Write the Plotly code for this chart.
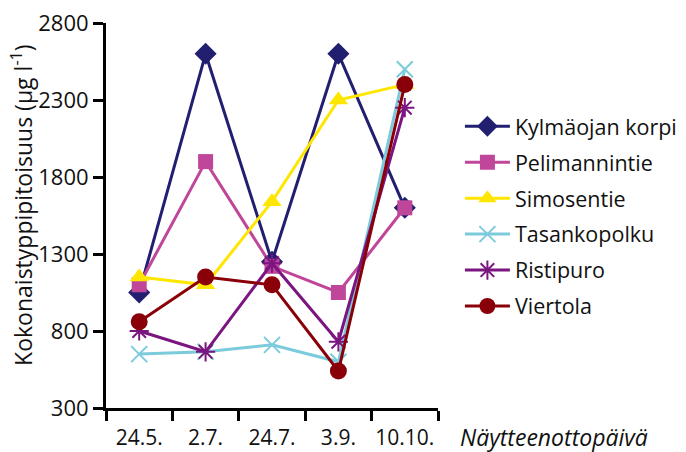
import plotly.graph_objects as go

# Sampling dates and total nitrogen concentration (µg/l) per site
dates = ["24.5.", "2.7.", "24.7.", "3.9.", "10.10."]

kylmaojan_korpi = [1050, 2600, 1250, 2600, 1600]
pelimannintie = [1100, 1900, 1220, 1050, 1600]
simosentie = [1150, 1100, 1640, 2300, 2400]
tasankopolku = [650, 665, 710, 600, 2500]
ristipuro = [800, 665, 1240, 730, 2250]
viertola = [860, 1150, 1100, 540, 2400]

series = [
    ("Kylmäojan korpi", kylmaojan_korpi, "#221e70", "diamond", 17, 0),
    ("Pelimannintie", pelimannintie, "#c0469a", "square", 15, 0),
    ("Simosentie", simosentie, "#ffe600", "triangle-up", 17, 0),
    ("Tasankopolku", tasankopolku, "#7ccbdc", "x-thin-open", 16, 2),
    ("Ristipuro", ristipuro, "#7b1580", "asterisk-open", 16, 2),
    ("Viertola", viertola, "#8a0008", "circle", 17, 0),
]

FONT = "Open Sans"
TXT = "#111111"

fig = go.Figure()
for name, vals, color, symbol, size, mlw in series:
    fig.add_trace(go.Scatter(
        x=dates, y=vals, name=name, mode="lines+markers",
        legendgroup=name,
        line=dict(color=color, width=3),
        marker=dict(symbol=symbol, size=size, color=color,
                    line=dict(color=color, width=mlw)),
    ))

fig.update_layout(
    width=686, height=452,
    margin=dict(l=106, r=248, t=23, b=44, autoexpand=False),
    paper_bgcolor="white", plot_bgcolor="white",
    font=dict(family=FONT, size=22, color=TXT),
    showlegend=True,
    legend=dict(
        x=1.066, y=0.785, xanchor="left", yanchor="top",
        font=dict(family=FONT, size=21.5, color=TXT),
        itemwidth=45, tracegroupgap=5,
        bgcolor="rgba(0,0,0,0)",
    ),
    xaxis=dict(
        type="category", tickson="boundaries",
        range=[-0.5, 4.5], automargin=False, tickangle=0,
        showline=True, linecolor="black", linewidth=3,
        ticks="outside", ticklen=10, tickwidth=3, tickcolor="black",
        ticklabelstandoff=9,
        showgrid=False, zeroline=False,
        tickfont=dict(family=FONT, size=21, color=TXT),
    ),
    yaxis=dict(
        range=[300, 2800], tickvals=[300, 800, 1300, 1800, 2300, 2800],
        automargin=False,
        showline=True, linecolor="black", linewidth=3,
        ticks="outside", ticklen=10, tickwidth=3, tickcolor="black",
        showgrid=False, zeroline=False,
        tickfont=dict(family=FONT, size=22, color=TXT),
    ),
)

# Y-axis title
fig.add_annotation(
    text="Kokonaistyppipitoisuus (µg l<sup>-1</sup>)",
    xref="paper", yref="paper", x=-0.253, y=0.525,
    xanchor="center", yanchor="middle", textangle=-90,
    showarrow=False, font=dict(family=FONT, size=23, color=TXT),
)

# X-axis title beside the last tick label
fig.add_annotation(
    text="<i>Näytteenottopäivä</i>", xref="paper", yref="paper",
    x=1.06, y=0, xanchor="left", yanchor="middle", yshift=-29,
    showarrow=False, font=dict(family=FONT, size=23, color=TXT),
)

fig.write_html("out.html")
